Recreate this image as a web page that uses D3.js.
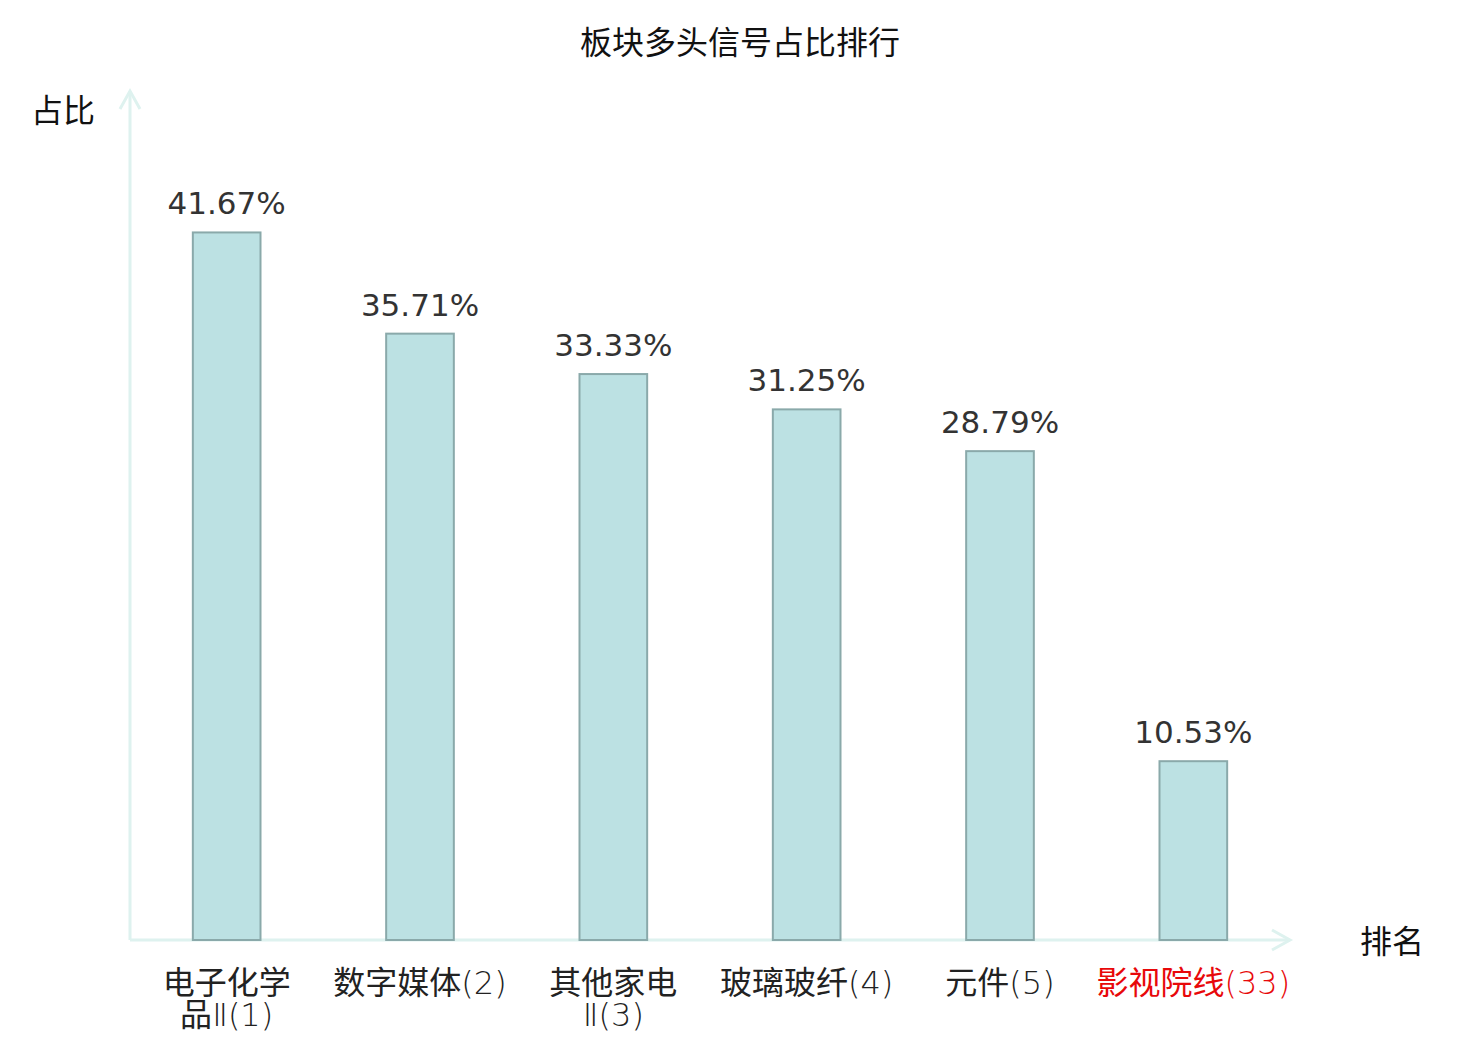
<!DOCTYPE html>
<html>
<head>
<meta charset="utf-8">
<script src="https://cdn.jsdelivr.net/npm/d3@7"></script>
<style>
  body { margin: 0; background: #fff; }
</style>
</head>
<body>
<div id="chart"></div>
<script>
const title = "板块多头信号占比排行";
const names = ["电子化学\n品Ⅱ(1)", "数字媒体(2)", "其他家电\nⅡ(3)", "玻璃玻纤(4)", "元件(5)", "影视院线(33)"];
const values = [41.67, 35.71, 33.33, 31.25, 28.79, 10.53];
const highlight = [false, false, false, false, false, true];

const width = 1480, height = 1040;
const x0 = 130, x1 = 1290, y0 = 940, yTop = 91;
const cjk = "'Noto Sans CJK SC', sans-serif";

const svg = d3.select("#chart")
  .append("svg")
  .attr("width", width)
  .attr("height", height);

const x = d3.scaleBand()
  .domain(d3.range(names.length))
  .range([x0, x1])
  .paddingInner(0.65)
  .paddingOuter(0.325);

const y = d3.scaleLinear()
  .domain([0, 50])
  .range([y0, yTop]);

// title
svg.append("text")
  .attr("x", 740)
  .attr("y", 54)
  .attr("text-anchor", "middle")
  .style("font-family", cjk)
  .style("font-size", "32px")
  .attr("fill", "#111")
  .text(title);

// axes with arrows
const axisColor = "#def2ef";
svg.append("line")
  .attr("x1", x0).attr("y1", y0)
  .attr("x2", x0).attr("y2", yTop)
  .attr("stroke", axisColor).attr("stroke-width", 3);
svg.append("path")
  .attr("d", `M${x0 - 10},${yTop + 18}L${x0},${yTop}L${x0 + 10},${yTop + 18}`)
  .attr("fill", "none").attr("stroke", axisColor).attr("stroke-width", 3);
svg.append("line")
  .attr("x1", x0).attr("y1", y0)
  .attr("x2", x1).attr("y2", y0)
  .attr("stroke", axisColor).attr("stroke-width", 3);
svg.append("path")
  .attr("d", `M${x1 - 18},${y0 - 10}L${x1},${y0}L${x1 - 18},${y0 + 10}`)
  .attr("fill", "none").attr("stroke", axisColor).attr("stroke-width", 3);

// axis names
svg.append("text")
  .attr("x", 63).attr("y", 122)
  .attr("text-anchor", "middle")
  .style("font-family", cjk)
  .style("font-size", "32px")
  .attr("fill", "#111")
  .text("占比");
svg.append("text")
  .attr("x", 1392).attr("y", 953)
  .attr("text-anchor", "middle")
  .style("font-family", cjk)
  .style("font-size", "32px")
  .attr("fill", "#111")
  .text("排名");

// bars
svg.append("g")
  .selectAll("rect")
  .data(values)
  .join("rect")
  .attr("x", (d, i) => x(i))
  .attr("y", d => y(d))
  .attr("width", x.bandwidth())
  .attr("height", d => y(0) - y(d))
  .attr("fill", "#bce1e3")
  .attr("stroke", "#8aa9aa")
  .attr("stroke-width", 2);

// value labels
svg.append("g")
  .selectAll("text")
  .data(values)
  .join("text")
  .attr("x", (d, i) => x(i) + x.bandwidth() / 2)
  .attr("y", d => y(d) - 18)
  .attr("text-anchor", "middle")
  .style("font-family", "'DejaVu Sans', sans-serif")
  .style("font-size", "31px")
  .attr("fill", "#333")
  .text(d => d.toFixed(2) + "%");

// category labels: CJK runs regular, latin runs in a light face
const runs = s => s.match(/[\u4e00-\u9fff]+|[^\u4e00-\u9fff]+/g);
const cats = svg.append("g")
  .selectAll("text")
  .data(names)
  .join("text")
  .attr("x", (d, i) => x(i) + x.bandwidth() / 2)
  .attr("y", 994)
  .attr("text-anchor", "middle")
  .style("font-size", "32px")
  .attr("fill", (d, i) => highlight[i] ? "#e8080a" : "#222");

cats.each(function (d) {
  const t = d3.select(this);
  d.split("\n").forEach((line, j) => {
    runs(line).forEach((r, k) => {
      const isCjk = /[\u4e00-\u9fff]/.test(r);
      const ts = t.append("tspan")
        .style("font-family", isCjk ? cjk : "'DejaVu Sans', sans-serif")
        .style("font-weight", isCjk ? 400 : 200)
        .text(r);
      if (k === 0) ts.attr("x", t.attr("x")).attr("dy", j === 0 ? 0 : 32);
    });
  });
});
</script>
</body>
</html>
